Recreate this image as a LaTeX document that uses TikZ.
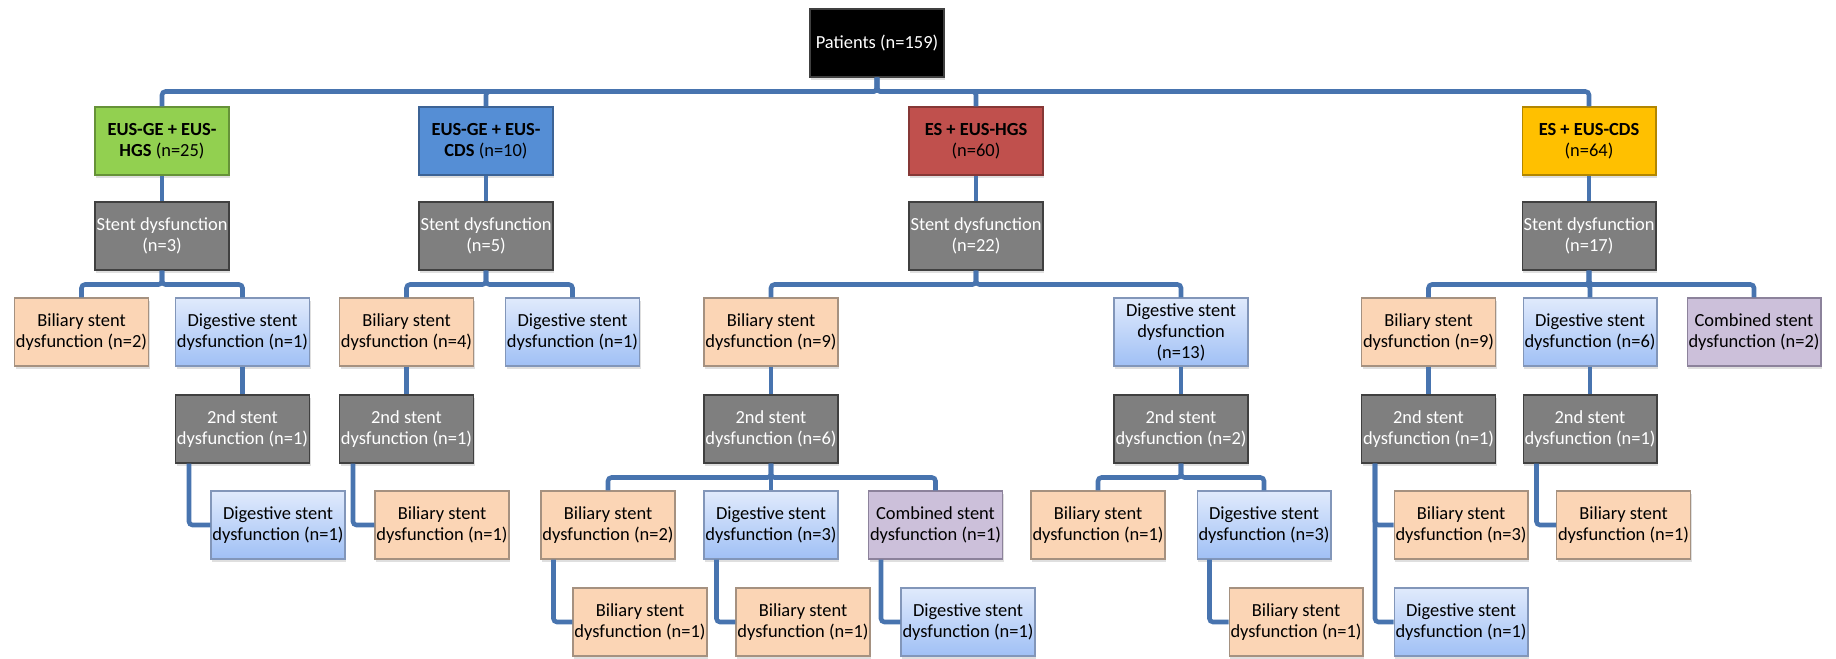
\documentclass[tikz,border=0pt]{standalone}
\usepackage{fontspec}
\setmainfont{Carlito}
\usetikzlibrary{shadows}

\definecolor{linkblue}{RGB}{72,116,175}
\definecolor{bilfill}{RGB}{251,213,181}
\definecolor{bildraw}{RGB}{165,145,128}
\definecolor{digtop}{RGB}{224,234,252}
\definecolor{digbot}{RGB}{160,192,245}
\definecolor{digdraw}{RGB}{130,150,185}
\definecolor{combfill}{RGB}{204,192,218}
\definecolor{combdraw}{RGB}{140,130,155}
\definecolor{greyfill}{RGB}{127,127,127}
\definecolor{greydraw}{RGB}{64,64,64}
\definecolor{grpgreen}{RGB}{146,208,80}
\definecolor{grpblue}{RGB}{85,142,213}
\definecolor{grpred}{RGB}{192,80,77}
\definecolor{grpyellow}{RGB}{255,192,0}

\tikzset{
  box/.style={draw, minimum width=2.68cm, minimum height=1.36cm, inner sep=0.5pt,
    align=center, line width=0.6pt,
    drop shadow={shadow xshift=0.6pt, shadow yshift=-1.6pt, opacity=0.25}},
  root/.style={box, fill=black, draw=greydraw, text=white},
  grp/.style={box, fill=#1, draw=#1!70!black},
  stentbox/.style={box, fill=greyfill, draw=greydraw, text=white},
  bil/.style={box, fill=bilfill, draw=bildraw},
  dig/.style={box, top color=digtop, bottom color=digbot, draw=digdraw},
  comb/.style={box, fill=combfill, draw=combdraw},
  link/.style={draw=linkblue, line width=2.6pt, rounded corners=2pt},
}

\begin{document}
\begin{tikzpicture}[x=0.02cm, y=-0.02cm, font=\fontsize{10.5}{12}\selectfont]
    \useasboundingbox (0,0) rectangle (1836,659);

    % top and groups
    \node[root] (pat) at (877,43) {Patients (n=159)};
    \node[grp=grpgreen] (egh) at (162,141) {\textbf{EUS-GE + EUS-}\\\textbf{HGS} (n=25)};
    \node[grp=grpblue] (egc) at (486,141) {\textbf{EUS-GE + EUS-}\\\textbf{CDS} (n=10)};
    \node[grp=grpred] (eshgs) at (976,141) {\textbf{ES + EUS-HGS}\\(n=60)};
    \node[grp=grpyellow] (escds) at (1589,141) {\textbf{ES + EUS-CDS}\\(n=64)};

    \node[stentbox] (sdegh) at (162,236) {Stent dysfunction\\(n=3)};
    \node[stentbox] (sdegc) at (486,236) {Stent dysfunction\\(n=5)};
    \node[stentbox] (sdeshgs) at (976,236) {Stent dysfunction\\(n=22)};
    \node[stentbox] (sdescds) at (1589,236) {Stent dysfunction\\(n=17)};

    % first dysfunction
    \node[bil] (b1) at (81.5,332) {Biliary stent\\dysfunction (n=2)};
    \node[dig] (d1) at (242.5,332) {Digestive stent\\dysfunction (n=1)};
    \node[bil] (b2) at (406.5,332) {Biliary stent\\dysfunction (n=4)};
    \node[dig] (d2) at (572.5,332) {Digestive stent\\dysfunction (n=1)};
    \node[bil] (b3) at (771,332) {Biliary stent\\dysfunction (n=9)};
    \node[dig] (d3) at (1181,332) {Digestive stent\\dysfunction\\(n=13)};
    \node[bil] (b4) at (1428.5,332) {Biliary stent\\dysfunction (n=9)};
    \node[dig] (d4) at (1590,332) {Digestive stent\\dysfunction (n=6)};
    \node[comb] (c1) at (1754,332) {Combined stent\\dysfunction (n=2)};

    % second dysfunction
    \node[stentbox] (sd1) at (242.5,429) {2nd stent\\dysfunction (n=1)};
    \node[stentbox] (sd2) at (406.5,429) {2nd stent\\dysfunction (n=1)};
    \node[stentbox] (sd3) at (771,429) {2nd stent\\dysfunction (n=6)};
    \node[stentbox] (sd4) at (1181,429) {2nd stent\\dysfunction (n=2)};
    \node[stentbox] (sd5) at (1428.5,429) {2nd stent\\dysfunction (n=1)};
    \node[stentbox] (sd6) at (1590,429) {2nd stent\\dysfunction (n=1)};

    \node[dig] (d5) at (278,525) {Digestive stent\\dysfunction (n=1)};
    \node[bil] (b5) at (442,525) {Biliary stent\\dysfunction (n=1)};
    \node[bil] (b6) at (608,525) {Biliary stent\\dysfunction (n=2)};
    \node[dig] (d6) at (771,525) {Digestive stent\\dysfunction (n=3)};
    \node[comb] (c2) at (935.5,525) {Combined stent\\dysfunction (n=1)};
    \node[bil] (b7) at (1098,525) {Biliary stent\\dysfunction (n=1)};
    \node[dig] (d7) at (1264,525) {Digestive stent\\dysfunction (n=3)};
    \node[bil] (b8) at (1461,525) {Biliary stent\\dysfunction (n=3)};
    \node[bil] (b9) at (1623.5,525) {Biliary stent\\dysfunction (n=1)};

    \node[bil] (b10) at (640,622) {Biliary stent\\dysfunction (n=1)};
    \node[bil] (b11) at (803,622) {Biliary stent\\dysfunction (n=1)};
    \node[dig] (d8) at (968,622) {Digestive stent\\dysfunction (n=1)};
    \node[bil] (b12) at (1296,622) {Biliary stent\\dysfunction (n=1)};
    \node[dig] (d9) at (1461,622) {Digestive stent\\dysfunction (n=1)};

    % connectors
    \draw[link] (pat.south) -- ++(0,14) -| (egh.north);
    \draw[link] (pat.south) -- ++(0,14) -| (egc.north);
    \draw[link] (pat.south) -- ++(0,14) -| (eshgs.north);
    \draw[link] (pat.south) -- ++(0,14) -| (escds.north);

    \draw[link] (egh.south) -- (sdegh.north);
    \draw[link] (egc.south) -- (sdegc.north);
    \draw[link] (eshgs.south) -- (sdeshgs.north);
    \draw[link] (escds.south) -- (sdescds.north);

    \draw[link] (sdegh.south) -- ++(0,14) -| (b1.north);
    \draw[link] (sdegh.south) -- ++(0,14) -| (d1.north);
    \draw[link] (sdegc.south) -- ++(0,14) -| (b2.north);
    \draw[link] (sdegc.south) -- ++(0,14) -| (d2.north);
    \draw[link] (sdeshgs.south) -- ++(0,14) -| (b3.north);
    \draw[link] (sdeshgs.south) -- ++(0,14) -| (d3.north);
    \draw[link] (sdescds.south) -- ++(0,14) -| (b4.north);
    \draw[link] (sdescds.south) -- ++(0,14) -| (d4.north);
    \draw[link] (sdescds.south) -- ++(0,14) -| (c1.north);

    \draw[link] (d1.south) -- (sd1.north);
    \draw[link] (b2.south) -- (sd2.north);
    \draw[link] (b3.south) -- (sd3.north);
    \draw[link] (d3.south) -- (sd4.north);
    \draw[link] (b4.south) -- (sd5.north);
    \draw[link] (d4.south) -- (sd6.north);

    \draw[link] (sd1.south west) ++(14,0) |- (d5.west);
    \draw[link] (sd2.south west) ++(14,0) |- (b5.west);
    \draw[link] (sd3.south) -- ++(0,14) -| (b6.north);
    \draw[link] (sd3.south) -- ++(0,14) -| (d6.north);
    \draw[link] (sd3.south) -- ++(0,14) -| (c2.north);
    \draw[link] (sd4.south) -- ++(0,14) -| (b7.north);
    \draw[link] (sd4.south) -- ++(0,14) -| (d7.north);
    \draw[link] (sd5.south west) ++(14,0) |- (b8.west);
    \draw[link] (sd5.south west) ++(14,0) |- (d9.west);
    \draw[link] (sd6.south west) ++(14,0) |- (b9.west);

    \draw[link] (b6.south west) ++(13,0) |- (b10.west);
    \draw[link] (d6.south west) ++(13,0) |- (b11.west);
    \draw[link] (c2.south west) ++(13,0) |- (d8.west);
    \draw[link] (d7.south west) ++(13,0) |- (b12.west);
\end{tikzpicture}
\end{document}
